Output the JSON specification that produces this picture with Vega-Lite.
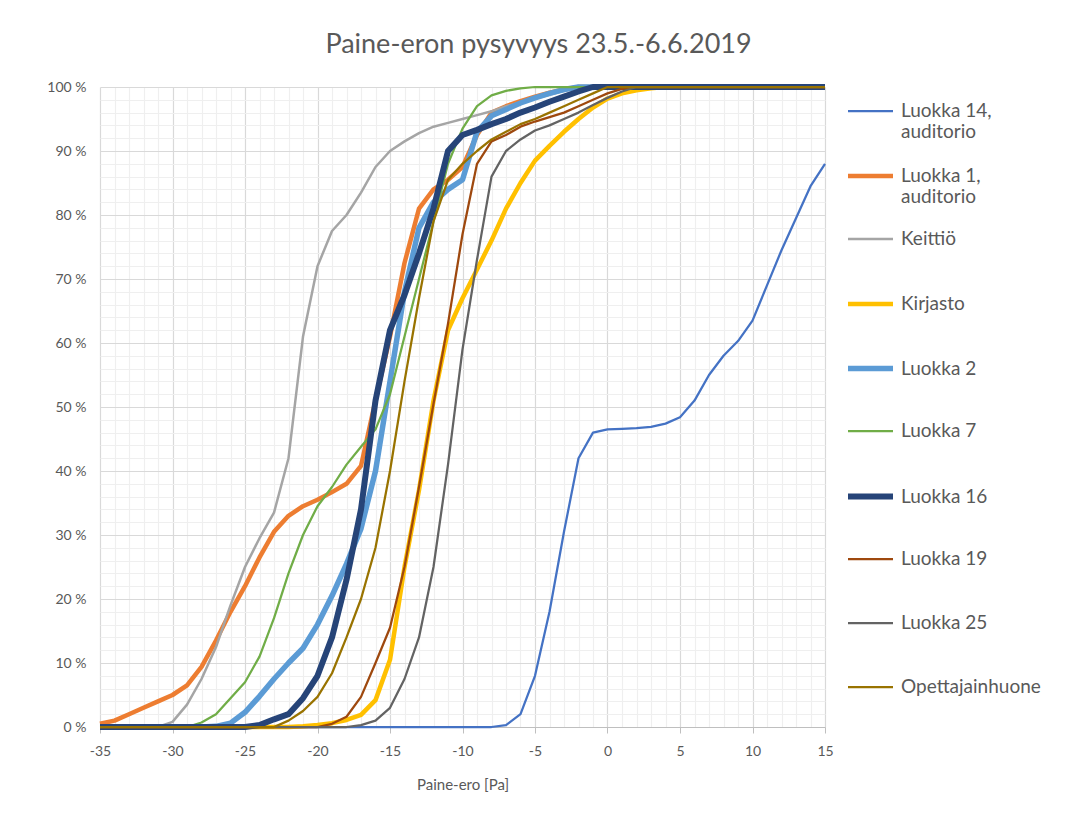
{
"$schema": "https://vega.github.io/schema/vega-lite/v6.json",
"width": 725, "height": 640,
"autosize": {"type": "none"},
"padding": {"left": 100, "top": 87, "right": 240, "bottom": 90},
"background": "white",
"title": {"text": "Paine-eron pysyvyys 23.5.-6.6.2019", "anchor": "middle", "frame": "group", "dx": 76, "offset": 21, "fontSize": 27, "font": "Lato", "fontWeight": "normal", "color": "#595959"},
"config": {"view": {"stroke": null}, "font": "Lato"},
"data": {"values": [
{"s":"Luokka 14, auditorio","x":-35,"y":0},{"s":"Luokka 14, auditorio","x":-34,"y":0},{"s":"Luokka 14, auditorio","x":-33,"y":0},{"s":"Luokka 14, auditorio","x":-32,"y":0},{"s":"Luokka 14, auditorio","x":-31,"y":0},{"s":"Luokka 14, auditorio","x":-30,"y":0},{"s":"Luokka 14, auditorio","x":-29,"y":0},{"s":"Luokka 14, auditorio","x":-28,"y":0},{"s":"Luokka 14, auditorio","x":-27,"y":0},{"s":"Luokka 14, auditorio","x":-26,"y":0},{"s":"Luokka 14, auditorio","x":-25,"y":0},{"s":"Luokka 14, auditorio","x":-24,"y":0},{"s":"Luokka 14, auditorio","x":-23,"y":0},{"s":"Luokka 14, auditorio","x":-22,"y":0},{"s":"Luokka 14, auditorio","x":-21,"y":0},{"s":"Luokka 14, auditorio","x":-20,"y":0},{"s":"Luokka 14, auditorio","x":-19,"y":0},{"s":"Luokka 14, auditorio","x":-18,"y":0},{"s":"Luokka 14, auditorio","x":-17,"y":0},{"s":"Luokka 14, auditorio","x":-16,"y":0},{"s":"Luokka 14, auditorio","x":-15,"y":0},{"s":"Luokka 14, auditorio","x":-14,"y":0},{"s":"Luokka 14, auditorio","x":-13,"y":0},{"s":"Luokka 14, auditorio","x":-12,"y":0},{"s":"Luokka 14, auditorio","x":-11,"y":0},{"s":"Luokka 14, auditorio","x":-10,"y":0},{"s":"Luokka 14, auditorio","x":-9,"y":0},{"s":"Luokka 14, auditorio","x":-8,"y":0},{"s":"Luokka 14, auditorio","x":-7,"y":0.3},{"s":"Luokka 14, auditorio","x":-6,"y":2},{"s":"Luokka 14, auditorio","x":-5,"y":8},{"s":"Luokka 14, auditorio","x":-4,"y":18},{"s":"Luokka 14, auditorio","x":-3,"y":30.5},{"s":"Luokka 14, auditorio","x":-2,"y":42},{"s":"Luokka 14, auditorio","x":-1,"y":46},{"s":"Luokka 14, auditorio","x":0,"y":46.5},{"s":"Luokka 14, auditorio","x":1,"y":46.6},{"s":"Luokka 14, auditorio","x":2,"y":46.7},{"s":"Luokka 14, auditorio","x":3,"y":46.9},{"s":"Luokka 14, auditorio","x":4,"y":47.4},{"s":"Luokka 14, auditorio","x":5,"y":48.4},{"s":"Luokka 14, auditorio","x":6,"y":51},{"s":"Luokka 14, auditorio","x":7,"y":55},{"s":"Luokka 14, auditorio","x":8,"y":58},{"s":"Luokka 14, auditorio","x":9,"y":60.3},{"s":"Luokka 14, auditorio","x":10,"y":63.5},{"s":"Luokka 14, auditorio","x":11,"y":69},{"s":"Luokka 14, auditorio","x":12,"y":74.5},{"s":"Luokka 14, auditorio","x":13,"y":79.5},{"s":"Luokka 14, auditorio","x":14,"y":84.5},{"s":"Luokka 14, auditorio","x":15,"y":88},
{"s":"Luokka 1, auditorio","x":-35,"y":0.5},{"s":"Luokka 1, auditorio","x":-34,"y":1},{"s":"Luokka 1, auditorio","x":-33,"y":2},{"s":"Luokka 1, auditorio","x":-32,"y":3},{"s":"Luokka 1, auditorio","x":-31,"y":4},{"s":"Luokka 1, auditorio","x":-30,"y":5},{"s":"Luokka 1, auditorio","x":-29,"y":6.5},{"s":"Luokka 1, auditorio","x":-28,"y":9.4},{"s":"Luokka 1, auditorio","x":-27,"y":13.5},{"s":"Luokka 1, auditorio","x":-26,"y":18},{"s":"Luokka 1, auditorio","x":-25,"y":22},{"s":"Luokka 1, auditorio","x":-24,"y":26.5},{"s":"Luokka 1, auditorio","x":-23,"y":30.5},{"s":"Luokka 1, auditorio","x":-22,"y":33},{"s":"Luokka 1, auditorio","x":-21,"y":34.5},{"s":"Luokka 1, auditorio","x":-20,"y":35.5},{"s":"Luokka 1, auditorio","x":-19,"y":36.7},{"s":"Luokka 1, auditorio","x":-18,"y":38},{"s":"Luokka 1, auditorio","x":-17,"y":40.8},{"s":"Luokka 1, auditorio","x":-16,"y":51},{"s":"Luokka 1, auditorio","x":-15,"y":61},{"s":"Luokka 1, auditorio","x":-14,"y":72.5},{"s":"Luokka 1, auditorio","x":-13,"y":81},{"s":"Luokka 1, auditorio","x":-12,"y":84},{"s":"Luokka 1, auditorio","x":-11,"y":85.5},{"s":"Luokka 1, auditorio","x":-10,"y":87.5},{"s":"Luokka 1, auditorio","x":-9,"y":92.5},{"s":"Luokka 1, auditorio","x":-8,"y":96},{"s":"Luokka 1, auditorio","x":-7,"y":97},{"s":"Luokka 1, auditorio","x":-6,"y":97.8},{"s":"Luokka 1, auditorio","x":-5,"y":98.5},{"s":"Luokka 1, auditorio","x":-4,"y":99.1},{"s":"Luokka 1, auditorio","x":-3,"y":99.6},{"s":"Luokka 1, auditorio","x":-2,"y":100},{"s":"Luokka 1, auditorio","x":-1,"y":100},{"s":"Luokka 1, auditorio","x":0,"y":100},{"s":"Luokka 1, auditorio","x":1,"y":100},{"s":"Luokka 1, auditorio","x":2,"y":100},{"s":"Luokka 1, auditorio","x":3,"y":100},{"s":"Luokka 1, auditorio","x":4,"y":100},{"s":"Luokka 1, auditorio","x":5,"y":100},{"s":"Luokka 1, auditorio","x":6,"y":100},{"s":"Luokka 1, auditorio","x":7,"y":100},{"s":"Luokka 1, auditorio","x":8,"y":100},{"s":"Luokka 1, auditorio","x":9,"y":100},{"s":"Luokka 1, auditorio","x":10,"y":100},{"s":"Luokka 1, auditorio","x":11,"y":100},{"s":"Luokka 1, auditorio","x":12,"y":100},{"s":"Luokka 1, auditorio","x":13,"y":100},{"s":"Luokka 1, auditorio","x":14,"y":100},{"s":"Luokka 1, auditorio","x":15,"y":100},
{"s":"Keittiö","x":-35,"y":0},{"s":"Keittiö","x":-34,"y":0},{"s":"Keittiö","x":-33,"y":0},{"s":"Keittiö","x":-32,"y":0},{"s":"Keittiö","x":-31,"y":0},{"s":"Keittiö","x":-30,"y":0.8},{"s":"Keittiö","x":-29,"y":3.5},{"s":"Keittiö","x":-28,"y":7.5},{"s":"Keittiö","x":-27,"y":12.5},{"s":"Keittiö","x":-26,"y":19},{"s":"Keittiö","x":-25,"y":25},{"s":"Keittiö","x":-24,"y":29.5},{"s":"Keittiö","x":-23,"y":33.5},{"s":"Keittiö","x":-22,"y":42},{"s":"Keittiö","x":-21,"y":61},{"s":"Keittiö","x":-20,"y":72},{"s":"Keittiö","x":-19,"y":77.5},{"s":"Keittiö","x":-18,"y":80},{"s":"Keittiö","x":-17,"y":83.5},{"s":"Keittiö","x":-16,"y":87.5},{"s":"Keittiö","x":-15,"y":90},{"s":"Keittiö","x":-14,"y":91.5},{"s":"Keittiö","x":-13,"y":92.8},{"s":"Keittiö","x":-12,"y":93.8},{"s":"Keittiö","x":-11,"y":94.4},{"s":"Keittiö","x":-10,"y":95},{"s":"Keittiö","x":-9,"y":95.6},{"s":"Keittiö","x":-8,"y":96.2},{"s":"Keittiö","x":-7,"y":97},{"s":"Keittiö","x":-6,"y":97.6},{"s":"Keittiö","x":-5,"y":98.2},{"s":"Keittiö","x":-4,"y":98.8},{"s":"Keittiö","x":-3,"y":99.4},{"s":"Keittiö","x":-2,"y":100},{"s":"Keittiö","x":-1,"y":100},{"s":"Keittiö","x":0,"y":100},{"s":"Keittiö","x":1,"y":100},{"s":"Keittiö","x":2,"y":100},{"s":"Keittiö","x":3,"y":100},{"s":"Keittiö","x":4,"y":100},{"s":"Keittiö","x":5,"y":100},{"s":"Keittiö","x":6,"y":100},{"s":"Keittiö","x":7,"y":100},{"s":"Keittiö","x":8,"y":100},{"s":"Keittiö","x":9,"y":100},{"s":"Keittiö","x":10,"y":100},{"s":"Keittiö","x":11,"y":100},{"s":"Keittiö","x":12,"y":100},{"s":"Keittiö","x":13,"y":100},{"s":"Keittiö","x":14,"y":100},{"s":"Keittiö","x":15,"y":100},
{"s":"Kirjasto","x":-35,"y":0},{"s":"Kirjasto","x":-34,"y":0},{"s":"Kirjasto","x":-33,"y":0},{"s":"Kirjasto","x":-32,"y":0},{"s":"Kirjasto","x":-31,"y":0},{"s":"Kirjasto","x":-30,"y":0},{"s":"Kirjasto","x":-29,"y":0},{"s":"Kirjasto","x":-28,"y":0},{"s":"Kirjasto","x":-27,"y":0},{"s":"Kirjasto","x":-26,"y":0},{"s":"Kirjasto","x":-25,"y":0},{"s":"Kirjasto","x":-24,"y":0},{"s":"Kirjasto","x":-23,"y":0},{"s":"Kirjasto","x":-22,"y":0},{"s":"Kirjasto","x":-21,"y":0.1},{"s":"Kirjasto","x":-20,"y":0.3},{"s":"Kirjasto","x":-19,"y":0.6},{"s":"Kirjasto","x":-18,"y":1.1},{"s":"Kirjasto","x":-17,"y":1.9},{"s":"Kirjasto","x":-16,"y":4.2},{"s":"Kirjasto","x":-15,"y":10.5},{"s":"Kirjasto","x":-14,"y":25},{"s":"Kirjasto","x":-13,"y":37},{"s":"Kirjasto","x":-12,"y":51},{"s":"Kirjasto","x":-11,"y":62},{"s":"Kirjasto","x":-10,"y":67},{"s":"Kirjasto","x":-9,"y":71.5},{"s":"Kirjasto","x":-8,"y":76},{"s":"Kirjasto","x":-7,"y":81},{"s":"Kirjasto","x":-6,"y":85},{"s":"Kirjasto","x":-5,"y":88.5},{"s":"Kirjasto","x":-4,"y":90.8},{"s":"Kirjasto","x":-3,"y":93},{"s":"Kirjasto","x":-2,"y":95},{"s":"Kirjasto","x":-1,"y":96.8},{"s":"Kirjasto","x":0,"y":98.2},{"s":"Kirjasto","x":1,"y":99},{"s":"Kirjasto","x":2,"y":99.5},{"s":"Kirjasto","x":3,"y":99.8},{"s":"Kirjasto","x":4,"y":100},{"s":"Kirjasto","x":5,"y":100},{"s":"Kirjasto","x":6,"y":100},{"s":"Kirjasto","x":7,"y":100},{"s":"Kirjasto","x":8,"y":100},{"s":"Kirjasto","x":9,"y":100},{"s":"Kirjasto","x":10,"y":100},{"s":"Kirjasto","x":11,"y":100},{"s":"Kirjasto","x":12,"y":100},{"s":"Kirjasto","x":13,"y":100},{"s":"Kirjasto","x":14,"y":100},{"s":"Kirjasto","x":15,"y":100},
{"s":"Luokka 2","x":-35,"y":0},{"s":"Luokka 2","x":-34,"y":0},{"s":"Luokka 2","x":-33,"y":0},{"s":"Luokka 2","x":-32,"y":0},{"s":"Luokka 2","x":-31,"y":0},{"s":"Luokka 2","x":-30,"y":0},{"s":"Luokka 2","x":-29,"y":0},{"s":"Luokka 2","x":-28,"y":0},{"s":"Luokka 2","x":-27,"y":0.1},{"s":"Luokka 2","x":-26,"y":0.6},{"s":"Luokka 2","x":-25,"y":2.3},{"s":"Luokka 2","x":-24,"y":4.8},{"s":"Luokka 2","x":-23,"y":7.5},{"s":"Luokka 2","x":-22,"y":10},{"s":"Luokka 2","x":-21,"y":12.3},{"s":"Luokka 2","x":-20,"y":16},{"s":"Luokka 2","x":-19,"y":20.5},{"s":"Luokka 2","x":-18,"y":25.5},{"s":"Luokka 2","x":-17,"y":31},{"s":"Luokka 2","x":-16,"y":40},{"s":"Luokka 2","x":-15,"y":54},{"s":"Luokka 2","x":-14,"y":68},{"s":"Luokka 2","x":-13,"y":78},{"s":"Luokka 2","x":-12,"y":82},{"s":"Luokka 2","x":-11,"y":84},{"s":"Luokka 2","x":-10,"y":85.5},{"s":"Luokka 2","x":-9,"y":93},{"s":"Luokka 2","x":-8,"y":95.5},{"s":"Luokka 2","x":-7,"y":96.5},{"s":"Luokka 2","x":-6,"y":97.5},{"s":"Luokka 2","x":-5,"y":98.3},{"s":"Luokka 2","x":-4,"y":99},{"s":"Luokka 2","x":-3,"y":99.6},{"s":"Luokka 2","x":-2,"y":100},{"s":"Luokka 2","x":-1,"y":100},{"s":"Luokka 2","x":0,"y":100},{"s":"Luokka 2","x":1,"y":100},{"s":"Luokka 2","x":2,"y":100},{"s":"Luokka 2","x":3,"y":100},{"s":"Luokka 2","x":4,"y":100},{"s":"Luokka 2","x":5,"y":100},{"s":"Luokka 2","x":6,"y":100},{"s":"Luokka 2","x":7,"y":100},{"s":"Luokka 2","x":8,"y":100},{"s":"Luokka 2","x":9,"y":100},{"s":"Luokka 2","x":10,"y":100},{"s":"Luokka 2","x":11,"y":100},{"s":"Luokka 2","x":12,"y":100},{"s":"Luokka 2","x":13,"y":100},{"s":"Luokka 2","x":14,"y":100},{"s":"Luokka 2","x":15,"y":100},
{"s":"Luokka 7","x":-35,"y":0},{"s":"Luokka 7","x":-34,"y":0},{"s":"Luokka 7","x":-33,"y":0},{"s":"Luokka 7","x":-32,"y":0},{"s":"Luokka 7","x":-31,"y":0},{"s":"Luokka 7","x":-30,"y":0},{"s":"Luokka 7","x":-29,"y":0},{"s":"Luokka 7","x":-28,"y":0.7},{"s":"Luokka 7","x":-27,"y":2},{"s":"Luokka 7","x":-26,"y":4.5},{"s":"Luokka 7","x":-25,"y":7},{"s":"Luokka 7","x":-24,"y":11},{"s":"Luokka 7","x":-23,"y":17},{"s":"Luokka 7","x":-22,"y":24},{"s":"Luokka 7","x":-21,"y":30},{"s":"Luokka 7","x":-20,"y":34.5},{"s":"Luokka 7","x":-19,"y":37.5},{"s":"Luokka 7","x":-18,"y":41},{"s":"Luokka 7","x":-17,"y":43.8},{"s":"Luokka 7","x":-16,"y":46.5},{"s":"Luokka 7","x":-15,"y":52},{"s":"Luokka 7","x":-14,"y":61},{"s":"Luokka 7","x":-13,"y":70},{"s":"Luokka 7","x":-12,"y":79},{"s":"Luokka 7","x":-11,"y":88},{"s":"Luokka 7","x":-10,"y":93.5},{"s":"Luokka 7","x":-9,"y":97},{"s":"Luokka 7","x":-8,"y":98.7},{"s":"Luokka 7","x":-7,"y":99.4},{"s":"Luokka 7","x":-6,"y":99.8},{"s":"Luokka 7","x":-5,"y":100},{"s":"Luokka 7","x":-4,"y":100},{"s":"Luokka 7","x":-3,"y":100},{"s":"Luokka 7","x":-2,"y":100},{"s":"Luokka 7","x":-1,"y":100},{"s":"Luokka 7","x":0,"y":100},{"s":"Luokka 7","x":1,"y":100},{"s":"Luokka 7","x":2,"y":100},{"s":"Luokka 7","x":3,"y":100},{"s":"Luokka 7","x":4,"y":100},{"s":"Luokka 7","x":5,"y":100},{"s":"Luokka 7","x":6,"y":100},{"s":"Luokka 7","x":7,"y":100},{"s":"Luokka 7","x":8,"y":100},{"s":"Luokka 7","x":9,"y":100},{"s":"Luokka 7","x":10,"y":100},{"s":"Luokka 7","x":11,"y":100},{"s":"Luokka 7","x":12,"y":100},{"s":"Luokka 7","x":13,"y":100},{"s":"Luokka 7","x":14,"y":100},{"s":"Luokka 7","x":15,"y":100},
{"s":"Luokka 16","x":-35,"y":0},{"s":"Luokka 16","x":-34,"y":0},{"s":"Luokka 16","x":-33,"y":0},{"s":"Luokka 16","x":-32,"y":0},{"s":"Luokka 16","x":-31,"y":0},{"s":"Luokka 16","x":-30,"y":0},{"s":"Luokka 16","x":-29,"y":0},{"s":"Luokka 16","x":-28,"y":0},{"s":"Luokka 16","x":-27,"y":0},{"s":"Luokka 16","x":-26,"y":0},{"s":"Luokka 16","x":-25,"y":0},{"s":"Luokka 16","x":-24,"y":0.3},{"s":"Luokka 16","x":-23,"y":1.2},{"s":"Luokka 16","x":-22,"y":2},{"s":"Luokka 16","x":-21,"y":4.5},{"s":"Luokka 16","x":-20,"y":8},{"s":"Luokka 16","x":-19,"y":14},{"s":"Luokka 16","x":-18,"y":23},{"s":"Luokka 16","x":-17,"y":34},{"s":"Luokka 16","x":-16,"y":51},{"s":"Luokka 16","x":-15,"y":62},{"s":"Luokka 16","x":-14,"y":67.5},{"s":"Luokka 16","x":-13,"y":74},{"s":"Luokka 16","x":-12,"y":81},{"s":"Luokka 16","x":-11,"y":90},{"s":"Luokka 16","x":-10,"y":92.5},{"s":"Luokka 16","x":-9,"y":93.3},{"s":"Luokka 16","x":-8,"y":94.2},{"s":"Luokka 16","x":-7,"y":95},{"s":"Luokka 16","x":-6,"y":96},{"s":"Luokka 16","x":-5,"y":96.8},{"s":"Luokka 16","x":-4,"y":97.7},{"s":"Luokka 16","x":-3,"y":98.5},{"s":"Luokka 16","x":-2,"y":99.3},{"s":"Luokka 16","x":-1,"y":100},{"s":"Luokka 16","x":0,"y":100},{"s":"Luokka 16","x":1,"y":100},{"s":"Luokka 16","x":2,"y":100},{"s":"Luokka 16","x":3,"y":100},{"s":"Luokka 16","x":4,"y":100},{"s":"Luokka 16","x":5,"y":100},{"s":"Luokka 16","x":6,"y":100},{"s":"Luokka 16","x":7,"y":100},{"s":"Luokka 16","x":8,"y":100},{"s":"Luokka 16","x":9,"y":100},{"s":"Luokka 16","x":10,"y":100},{"s":"Luokka 16","x":11,"y":100},{"s":"Luokka 16","x":12,"y":100},{"s":"Luokka 16","x":13,"y":100},{"s":"Luokka 16","x":14,"y":100},{"s":"Luokka 16","x":15,"y":100},
{"s":"Luokka 19","x":-35,"y":0},{"s":"Luokka 19","x":-34,"y":0},{"s":"Luokka 19","x":-33,"y":0},{"s":"Luokka 19","x":-32,"y":0},{"s":"Luokka 19","x":-31,"y":0},{"s":"Luokka 19","x":-30,"y":0},{"s":"Luokka 19","x":-29,"y":0},{"s":"Luokka 19","x":-28,"y":0},{"s":"Luokka 19","x":-27,"y":0},{"s":"Luokka 19","x":-26,"y":0},{"s":"Luokka 19","x":-25,"y":0},{"s":"Luokka 19","x":-24,"y":0},{"s":"Luokka 19","x":-23,"y":0},{"s":"Luokka 19","x":-22,"y":0},{"s":"Luokka 19","x":-21,"y":0},{"s":"Luokka 19","x":-20,"y":0},{"s":"Luokka 19","x":-19,"y":0.5},{"s":"Luokka 19","x":-18,"y":1.6},{"s":"Luokka 19","x":-17,"y":4.7},{"s":"Luokka 19","x":-16,"y":10},{"s":"Luokka 19","x":-15,"y":15.5},{"s":"Luokka 19","x":-14,"y":25},{"s":"Luokka 19","x":-13,"y":37.5},{"s":"Luokka 19","x":-12,"y":50.5},{"s":"Luokka 19","x":-11,"y":63},{"s":"Luokka 19","x":-10,"y":77},{"s":"Luokka 19","x":-9,"y":88},{"s":"Luokka 19","x":-8,"y":91.5},{"s":"Luokka 19","x":-7,"y":92.5},{"s":"Luokka 19","x":-6,"y":93.8},{"s":"Luokka 19","x":-5,"y":94.6},{"s":"Luokka 19","x":-4,"y":95.3},{"s":"Luokka 19","x":-3,"y":96},{"s":"Luokka 19","x":-2,"y":97},{"s":"Luokka 19","x":-1,"y":98},{"s":"Luokka 19","x":0,"y":99},{"s":"Luokka 19","x":1,"y":99.7},{"s":"Luokka 19","x":2,"y":100},{"s":"Luokka 19","x":3,"y":100},{"s":"Luokka 19","x":4,"y":100},{"s":"Luokka 19","x":5,"y":100},{"s":"Luokka 19","x":6,"y":100},{"s":"Luokka 19","x":7,"y":100},{"s":"Luokka 19","x":8,"y":100},{"s":"Luokka 19","x":9,"y":100},{"s":"Luokka 19","x":10,"y":100},{"s":"Luokka 19","x":11,"y":100},{"s":"Luokka 19","x":12,"y":100},{"s":"Luokka 19","x":13,"y":100},{"s":"Luokka 19","x":14,"y":100},{"s":"Luokka 19","x":15,"y":100},
{"s":"Luokka 25","x":-35,"y":0},{"s":"Luokka 25","x":-34,"y":0},{"s":"Luokka 25","x":-33,"y":0},{"s":"Luokka 25","x":-32,"y":0},{"s":"Luokka 25","x":-31,"y":0},{"s":"Luokka 25","x":-30,"y":0},{"s":"Luokka 25","x":-29,"y":0},{"s":"Luokka 25","x":-28,"y":0},{"s":"Luokka 25","x":-27,"y":0},{"s":"Luokka 25","x":-26,"y":0},{"s":"Luokka 25","x":-25,"y":0},{"s":"Luokka 25","x":-24,"y":0},{"s":"Luokka 25","x":-23,"y":0},{"s":"Luokka 25","x":-22,"y":0},{"s":"Luokka 25","x":-21,"y":0},{"s":"Luokka 25","x":-20,"y":0},{"s":"Luokka 25","x":-19,"y":0},{"s":"Luokka 25","x":-18,"y":0},{"s":"Luokka 25","x":-17,"y":0.3},{"s":"Luokka 25","x":-16,"y":1},{"s":"Luokka 25","x":-15,"y":3},{"s":"Luokka 25","x":-14,"y":7.5},{"s":"Luokka 25","x":-13,"y":14},{"s":"Luokka 25","x":-12,"y":25},{"s":"Luokka 25","x":-11,"y":41},{"s":"Luokka 25","x":-10,"y":59},{"s":"Luokka 25","x":-9,"y":73},{"s":"Luokka 25","x":-8,"y":86},{"s":"Luokka 25","x":-7,"y":90},{"s":"Luokka 25","x":-6,"y":91.8},{"s":"Luokka 25","x":-5,"y":93.2},{"s":"Luokka 25","x":-4,"y":94},{"s":"Luokka 25","x":-3,"y":95},{"s":"Luokka 25","x":-2,"y":96},{"s":"Luokka 25","x":-1,"y":97.2},{"s":"Luokka 25","x":0,"y":98.3},{"s":"Luokka 25","x":1,"y":99.3},{"s":"Luokka 25","x":2,"y":100},{"s":"Luokka 25","x":3,"y":100},{"s":"Luokka 25","x":4,"y":100},{"s":"Luokka 25","x":5,"y":100},{"s":"Luokka 25","x":6,"y":100},{"s":"Luokka 25","x":7,"y":100},{"s":"Luokka 25","x":8,"y":100},{"s":"Luokka 25","x":9,"y":100},{"s":"Luokka 25","x":10,"y":100},{"s":"Luokka 25","x":11,"y":100},{"s":"Luokka 25","x":12,"y":100},{"s":"Luokka 25","x":13,"y":100},{"s":"Luokka 25","x":14,"y":100},{"s":"Luokka 25","x":15,"y":100},
{"s":"Opettajainhuone","x":-35,"y":0},{"s":"Opettajainhuone","x":-34,"y":0},{"s":"Opettajainhuone","x":-33,"y":0},{"s":"Opettajainhuone","x":-32,"y":0},{"s":"Opettajainhuone","x":-31,"y":0},{"s":"Opettajainhuone","x":-30,"y":0},{"s":"Opettajainhuone","x":-29,"y":0},{"s":"Opettajainhuone","x":-28,"y":0},{"s":"Opettajainhuone","x":-27,"y":0},{"s":"Opettajainhuone","x":-26,"y":0},{"s":"Opettajainhuone","x":-25,"y":0},{"s":"Opettajainhuone","x":-24,"y":0},{"s":"Opettajainhuone","x":-23,"y":0},{"s":"Opettajainhuone","x":-22,"y":1},{"s":"Opettajainhuone","x":-21,"y":2.5},{"s":"Opettajainhuone","x":-20,"y":4.7},{"s":"Opettajainhuone","x":-19,"y":8.4},{"s":"Opettajainhuone","x":-18,"y":14},{"s":"Opettajainhuone","x":-17,"y":20},{"s":"Opettajainhuone","x":-16,"y":28},{"s":"Opettajainhuone","x":-15,"y":40},{"s":"Opettajainhuone","x":-14,"y":54},{"s":"Opettajainhuone","x":-13,"y":67},{"s":"Opettajainhuone","x":-12,"y":79},{"s":"Opettajainhuone","x":-11,"y":85.5},{"s":"Opettajainhuone","x":-10,"y":88},{"s":"Opettajainhuone","x":-9,"y":90},{"s":"Opettajainhuone","x":-8,"y":91.8},{"s":"Opettajainhuone","x":-7,"y":93},{"s":"Opettajainhuone","x":-6,"y":94.2},{"s":"Opettajainhuone","x":-5,"y":95},{"s":"Opettajainhuone","x":-4,"y":96},{"s":"Opettajainhuone","x":-3,"y":97},{"s":"Opettajainhuone","x":-2,"y":98},{"s":"Opettajainhuone","x":-1,"y":99},{"s":"Opettajainhuone","x":0,"y":100},{"s":"Opettajainhuone","x":1,"y":100},{"s":"Opettajainhuone","x":2,"y":100},{"s":"Opettajainhuone","x":3,"y":100},{"s":"Opettajainhuone","x":4,"y":100},{"s":"Opettajainhuone","x":5,"y":100},{"s":"Opettajainhuone","x":6,"y":100},{"s":"Opettajainhuone","x":7,"y":100},{"s":"Opettajainhuone","x":8,"y":100},{"s":"Opettajainhuone","x":9,"y":100},{"s":"Opettajainhuone","x":10,"y":100},{"s":"Opettajainhuone","x":11,"y":100},{"s":"Opettajainhuone","x":12,"y":100},{"s":"Opettajainhuone","x":13,"y":100},{"s":"Opettajainhuone","x":14,"y":100},{"s":"Opettajainhuone","x":15,"y":100}
]},
"mark": {"type": "line", "strokeJoin": "round"},
"encoding": {
 "x": {"field": "x", "type": "quantitative", "scale": {"domain": [-35, 15], "nice": false, "zero": false},
   "axis": {"title": "Paine-ero [Pa]", "titleFontSize": 15, "titleFontWeight": "normal", "titleColor": "#595959", "titlePadding": 19, "titleFont": "Lato",
     "values": [-35,-34,-33,-32,-31,-30,-29,-28,-27,-26,-25,-24,-23,-22,-21,-20,-19,-18,-17,-16,-15,-14,-13,-12,-11,-10,-9,-8,-7,-6,-5,-4,-3,-2,-1,0,1,2,3,4,5,6,7,8,9,10,11,12,13,14,15],
     "labelExpr": "datum.value % 5 == 0 ? '' + datum.value : ''", "labelOverlap": false, "labelFlush": false, "labelFontSize": 14, "labelColor": "#595959", "labelPadding": 11, "labelFont": "Lato",
     "grid": true, "gridColor": {"condition": {"test": "datum.value % 5 == 0", "value": "#d9d9d9"}, "value": "#efefef"}, "gridWidth": 1.2,
     "ticks": true, "tickSize": 6, "tickColor": "#bfbfbf", "tickOpacity": {"condition": {"test": "datum.value % 5 == 0", "value": 1}, "value": 0},
     "domain": true, "domainColor": "#bfbfbf", "domainWidth": 1.2}},
 "y": {"field": "y", "type": "quantitative", "scale": {"domain": [0, 100], "nice": false},
   "axis": {"title": null,
     "values": [0,2,4,6,8,10,12,14,16,18,20,22,24,26,28,30,32,34,36,38,40,42,44,46,48,50,52,54,56,58,60,62,64,66,68,70,72,74,76,78,80,82,84,86,88,90,92,94,96,98,100],
     "labelExpr": "datum.value % 10 == 0 ? datum.value + ' %' : ''", "labelOverlap": false, "labelFlush": false, "labelFontSize": 14, "labelColor": "#595959", "labelPadding": 14, "labelFont": "Lato",
     "grid": true, "gridColor": {"condition": {"test": "datum.value % 10 == 0", "value": "#d9d9d9"}, "value": "#efefef"}, "gridWidth": 1.2,
     "ticks": false, "domain": false}},
 "color": {"field": "s", "type": "nominal",
   "scale": {"domain": ["Luokka 14, auditorio","Luokka 1, auditorio","Keittiö","Kirjasto","Luokka 2","Luokka 7","Luokka 16","Luokka 19","Luokka 25","Opettajainhuone"],
             "range": ["#4472C4","#ED7D31","#A5A5A5","#FFC000","#5B9BD5","#70AD47","#264478","#9E480E","#636363","#997300"]},
   "legend": {"title": null, "orient": "none", "legendX": 745, "legendY": 0, "symbolType": "stroke", "symbolSize": 2025, "labelFontSize": 19, "labelColor": "#595959", "labelFont": "Lato", "labelLimit": 300, "labelOffset": 5, "rowPadding": 8, "gridAlign": "all",
     "labelExpr": "indexof(datum.label, ', ') > 0 ? [slice(datum.label, 0, indexof(datum.label, ', ') + 1), 'auditorio'] : datum.label"}},
 "strokeWidth": {"field": "s", "type": "nominal",
   "scale": {"type": "ordinal", "domain": ["Luokka 14, auditorio","Luokka 1, auditorio","Keittiö","Kirjasto","Luokka 2","Luokka 7","Luokka 16","Luokka 19","Luokka 25","Opettajainhuone"],
             "range": [2.25, 4.5, 2.5, 4.5, 5.5, 2.25, 6, 2.25, 2.25, 2.25]},
   "legend": {"title": null, "orient": "none", "legendX": 745, "legendY": 0, "symbolType": "stroke", "symbolSize": 2025, "labelFontSize": 19, "labelColor": "#595959", "labelFont": "Lato", "labelLimit": 300, "labelOffset": 5, "rowPadding": 8, "gridAlign": "all",
     "labelExpr": "indexof(datum.label, ', ') > 0 ? [slice(datum.label, 0, indexof(datum.label, ', ') + 1), 'auditorio'] : datum.label"}}
}
}
